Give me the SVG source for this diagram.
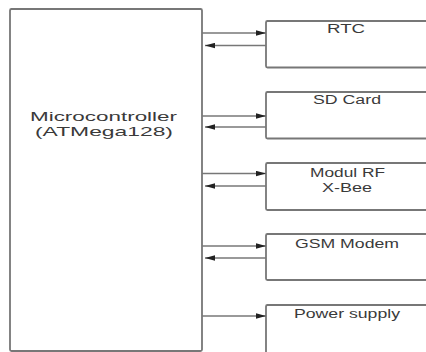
<svg xmlns="http://www.w3.org/2000/svg" width="426" height="352" viewBox="0 0 426 352">
<defs>
<style>
.box{fill:#fff;stroke:#777;stroke-width:1.8}
.ln{stroke:#777;stroke-width:1.5;fill:none}
.t{font-family:"Liberation Sans",Arial,sans-serif;fill:#3a3a3a;text-anchor:middle}
.s{font-size:12px}
.m{font-size:13.5px}
</style>
<marker id="ah" markerUnits="userSpaceOnUse" markerWidth="11" markerHeight="6" refX="10" refY="3" orient="auto">
<path d="M0,0.3 L10,3 L0,5.7 z" fill="#222"/>
</marker>
</defs>
<rect width="426" height="352" fill="#fff"/>
<g id="mcu">
<rect class="box" x="10" y="9" width="192" height="342" rx="1.5"/>
<text class="t m" x="103.5" y="120.5" textLength="147" lengthAdjust="spacingAndGlyphs">Microcontroller</text>
<text class="t m" x="104" y="136" textLength="138" lengthAdjust="spacingAndGlyphs">(ATMega128)</text>
</g>
<g id="rtc">
<rect class="box" x="266" y="21" width="166" height="46.5" rx="1.5"/>
<text class="t s" x="346" y="33" textLength="38" lengthAdjust="spacingAndGlyphs">RTC</text>
</g>
<g id="sd">
<rect class="box" x="266" y="92" width="166" height="46.5" rx="1.5"/>
<text class="t s" x="347" y="104" textLength="68" lengthAdjust="spacingAndGlyphs">SD Card</text>
</g>
<g id="rf">
<rect class="box" x="266" y="163" width="166" height="47" rx="1.5"/>
<text class="t s" x="347.5" y="176.5" textLength="75" lengthAdjust="spacingAndGlyphs">Modul RF</text>
<text class="t s" x="347" y="191.5" textLength="50" lengthAdjust="spacingAndGlyphs">X-Bee</text>
</g>
<g id="gsm">
<rect class="box" x="266" y="234" width="166" height="46" rx="1.5"/>
<text class="t s" x="347" y="248" textLength="104" lengthAdjust="spacingAndGlyphs">GSM Modem</text>
</g>
<g id="psu">
<rect class="box" x="266" y="305" width="166" height="60" rx="1.5"/>
<text class="t s" x="347" y="318" textLength="106" lengthAdjust="spacingAndGlyphs">Power supply</text>
</g>
<g id="connectors">
<line class="ln" x1="202" y1="33" x2="266" y2="33" marker-end="url(#ah)"/>
<line class="ln" x1="266" y1="45.5" x2="205" y2="45.5" marker-end="url(#ah)"/>
<line class="ln" x1="202" y1="116" x2="266" y2="116" marker-end="url(#ah)"/>
<line class="ln" x1="266" y1="127" x2="205" y2="127" marker-end="url(#ah)"/>
<line class="ln" x1="202" y1="173.5" x2="266" y2="173.5" marker-end="url(#ah)"/>
<line class="ln" x1="266" y1="186" x2="205" y2="186" marker-end="url(#ah)"/>
<line class="ln" x1="202" y1="246" x2="266" y2="246" marker-end="url(#ah)"/>
<line class="ln" x1="266" y1="258" x2="205" y2="258" marker-end="url(#ah)"/>
<line class="ln" x1="202" y1="316" x2="266" y2="316" marker-end="url(#ah)"/>
</g>
</svg>
